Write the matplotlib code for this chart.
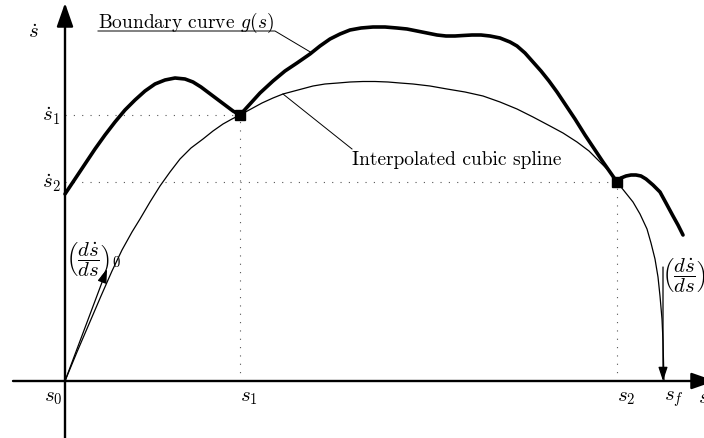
#!/usr/bin/env python3

import matplotlib
matplotlib.use("Agg")
import matplotlib.pyplot as plt

plt.rcParams["font.family"] = "serif"
plt.rcParams["font.serif"] = ["cmr10"]
plt.rcParams["mathtext.fontset"] = "cm"
plt.rcParams["axes.unicode_minus"] = False

FONTSIZE = 14
MATHSIZE = 15

# Knots of the phase plane: s0, s1, s2, sf and their velocities
knot_s = [0, 175, 552, 599]
knot_sdot = [0, 266, 199, 0]
knot_labels = [r"$s_0$", r"$s_1$", r"$s_2$", r"$s_f$"]

# Boundary curve g(s)
boundary_s = [0, 10, 20, 30, 40, 50, 60, 70, 80, 90, 100, 110, 120, 128, 136,
              144, 152, 160, 168, 175,
              185, 195, 208, 220, 232, 245, 255, 265, 275, 285, 296, 308, 320,
              332, 342, 352, 362, 372, 381, 390, 398, 407, 416, 425, 435, 445,
              452, 460, 468, 476, 484, 492, 500, 510, 520, 530, 538, 545, 552,
              556, 561, 566, 571, 576, 581, 588, 595, 601, 608, 613, 618]
boundary_sdot = [187, 202, 217, 232, 246, 259, 271, 281, 290, 297, 301, 303,
                 302, 299, 294, 288, 282, 276, 270, 266,
                 277, 288, 300, 310, 318, 327, 335, 342, 347, 351, 353, 354,
                 354, 353, 352, 350, 348, 346, 345, 345, 345.5, 346, 346, 345,
                 343, 339, 335, 328, 319, 310, 300, 289, 277, 262, 246, 231,
                 219, 209, 199,
                 203, 205, 206, 206, 205, 202, 196, 189, 178, 165, 156, 146]

# Interpolated cubic spline through the knots
spline_s = [0, 12, 24, 36, 47, 57, 67, 75, 85, 95, 105, 115, 126, 138, 148,
            158, 167, 175, 186, 197, 208, 218, 233, 248, 260, 273, 285, 298,
            310, 323, 335, 348, 365, 382, 400, 418, 435, 452, 468, 485, 498,
            512, 524, 535, 544, 552, 560, 568, 575, 582, 586, 590, 593, 595,
            597, 598, 598.5, 599]
spline_sdot = [0, 29, 57, 85, 110, 131, 149, 162, 179, 195, 209, 222, 233, 242,
               250, 257, 262, 266, 272, 278, 283, 287, 291, 295, 297, 298, 299,
               299.5, 299.5, 299, 298, 297, 295, 292, 289, 285, 279, 272, 264,
               255, 248, 239, 230, 219, 210, 199, 189, 179, 167, 152, 138, 122,
               104, 85, 62, 40, 20, 0]

# End slopes (ds_dot/ds) drawn as arrows
start_slope_tip = (42, 112)
end_slope_tail = (598, 114)

fig = plt.figure(figsize=(7.04, 4.39), dpi=100)
ax = fig.add_axes([0, 0, 1, 1])
ax.set_xlim(-65, 639)
ax.set_ylim(-57, 382)
ax.axis("off")

# axes with arrow heads
axis_style = "-|>,head_length=0.8,head_width=0.28"
ax.annotate("", xy=(0, 378), xytext=(0, -60), annotation_clip=False,
            arrowprops=dict(arrowstyle=axis_style, lw=1.7, color="black",
                            mutation_scale=18, shrinkA=0, shrinkB=0))
ax.annotate("", xy=(650, 0), xytext=(-52, 0), annotation_clip=False,
            arrowprops=dict(arrowstyle=axis_style, lw=1.7, color="black",
                            mutation_scale=18, shrinkA=0, shrinkB=0))

# dotted guides from the inner knots
dots = dict(color="#555555", lw=0.8, ls=(0, (1, 6.5)))
for s, v in zip(knot_s[1:3], knot_sdot[1:3]):
    ax.plot([0, s], [v, v], **dots)
    ax.plot([s, s], [0, v], **dots)

ax.plot(spline_s, spline_sdot, color="black", lw=0.9, solid_joinstyle="round")
ax.plot(boundary_s, boundary_sdot, color="black", lw=2.6,
        solid_joinstyle="round", solid_capstyle="round")
ax.plot(knot_s[1:3], knot_sdot[1:3], ls="none", marker="s", ms=6.5,
        color="black")

# slope arrows
small_style = "-|>,head_length=0.6,head_width=0.2"
ax.annotate("", xy=start_slope_tip, xytext=(0, 0),
            arrowprops=dict(arrowstyle=small_style, lw=0.9, color="black",
                            mutation_scale=14, shrinkA=0, shrinkB=0))
ax.annotate("", xy=(end_slope_tail[0], 0), xytext=end_slope_tail,
            arrowprops=dict(arrowstyle=small_style, lw=0.9, color="black",
                            mutation_scale=14, shrinkA=0, shrinkB=0))

ax.text(1, 122, r"$\left(\dfrac{d\dot{s}}{ds}\right)_0$", fontsize=15,
        ha="left", va="center")
ax.text(597, 106, r"$\left(\dfrac{d\dot{s}}{ds}\right)_f$", fontsize=15,
        ha="left", va="center", clip_on=False)

# axis labels
ax.text(-32, 349, r"$\dot{s}$", fontsize=MATHSIZE, ha="center", va="center")
ax.text(-4, knot_sdot[1], r"$\dot{s}_1$", fontsize=MATHSIZE, ha="right",
        va="center")
ax.text(-4, knot_sdot[2], r"$\dot{s}_2$", fontsize=MATHSIZE, ha="right",
        va="center")
ax.text(-2, -7, knot_labels[0], fontsize=MATHSIZE, ha="right", va="top")
for s, lab in zip(knot_s[1:], knot_labels[1:]):
    ax.text(s, -7, lab, fontsize=MATHSIZE, ha="left", va="top")
ax.text(633, -7, r"$s$", fontsize=MATHSIZE, ha="left", va="top")

# curve labels with leader lines
ax.text(33, 354, r"Boundary curve $g(s)$", fontsize=FONTSIZE, ha="left",
        va="baseline")
ax.plot([33, 210, 247], [350, 350, 328], color="black", lw=0.7)
ax.text(287, 217, "Interpolated cubic spline", fontsize=FONTSIZE, ha="left",
        va="baseline")
ax.plot([218, 287], [287, 232], color="black", lw=0.7)

fig.savefig("out.png", dpi=100)
